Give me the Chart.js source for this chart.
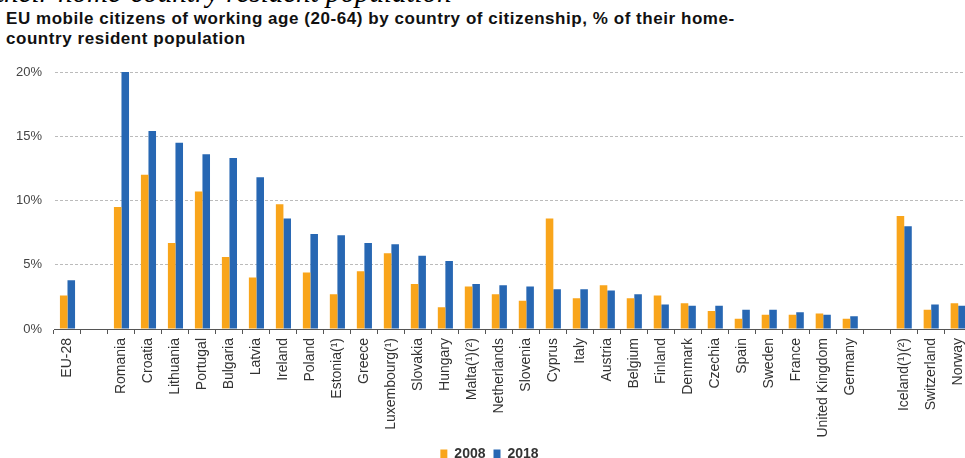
<!DOCTYPE html>
<html>
<head>
<meta charset="utf-8">
<script src="https://cdn.jsdelivr.net/npm/chart.js@4.4.1/dist/chart.umd.min.js"></script>
<style>
    body { margin: 0; background: #fff; }
    #wrap { position: relative; width: 965px; height: 458px; overflow: hidden; }
    #cut { position: absolute; left: -4px; top: -24px; font: italic 29px "Liberation Serif", serif; color: #000; white-space: nowrap; }
    #title { position: absolute; left: 6px; top: 9px; font: bold 17px "Liberation Sans", Arial, sans-serif; letter-spacing: 0.55px; color: #111; line-height: 20px; }
    #box { position: absolute; left: 0; top: 0; width: 979px; height: 471px; }
</style>
</head>
<body>
<div id="wrap">
    <div id="cut">their home-country resident population</div>
    <div id="title">EU mobile citizens of working age (20-64) by country of citizenship, % of their home-<br>country resident population</div>
    <div id="box"><canvas id="graph"></canvas></div>
</div>
<script>
// data (% of home-country resident population)
let countries = ['EU-28', '', 'Romania', 'Croatia', 'Lithuania', 'Portugal', 'Bulgaria', 'Latvia', 'Ireland', 'Poland',
    'Estonia(¹)', 'Greece', 'Luxembourg(¹)', 'Slovakia', 'Hungary', 'Malta(¹)(²)', 'Netherlands', 'Slovenia', 'Cyprus',
    'Italy', 'Austria', 'Belgium', 'Finland', 'Denmark', 'Czechia', 'Spain', 'Sweden', 'France', 'United Kingdom',
    'Germany', ' ', 'Iceland(¹)(²)', 'Switzerland', 'Norway']

let values2008 = [2.6, null, 9.5, 12.0, 6.7, 10.7, 5.6, 4.0, 9.7, 4.4,
    2.7, 4.5, 5.9, 3.5, 1.7, 3.3, 2.7, 2.2, 8.6,
    2.4, 3.4, 2.4, 2.6, 2.0, 1.4, 0.8, 1.1, 1.1, 1.2,
    0.8, null, 8.8, 1.5, 2.0]

let values2018 = [3.8, null, 20.0, 15.4, 14.5, 13.6, 13.3, 11.8, 8.6, 7.4,
    7.3, 6.7, 6.6, 5.7, 5.3, 3.5, 3.4, 3.3, 3.1,
    3.1, 3.0, 2.7, 1.9, 1.8, 1.8, 1.5, 1.5, 1.3, 1.1,
    1.0, null, 8.0, 1.9, 1.8]

let yTicks = [0, 5, 10, 15, 20]

let ctx = document.getElementById('graph').getContext('2d')

let graph = new Chart(ctx, {
    type: 'bar',
    data: {
        labels: countries,
        datasets: [
            {
                label: '2008',
                data: values2008,
                backgroundColor: '#F9A51B',
                categoryPercentage: 0.56,
                barPercentage: 1.0,
            },
            {
                label: '2018',
                data: values2018,
                backgroundColor: '#2767B3',
                categoryPercentage: 0.56,
                barPercentage: 1.0,
            },
        ]
    },
    options: {
        responsive: true,
        maintainAspectRatio: false,
        animation: false,
        layout: { padding: { top: 72, left: 0, right: 0, bottom: 0 } },
        plugins: {
            tooltip: { enabled: false },
            legend: {
                position: 'bottom',
                labels: {
                    boxWidth: 7,
                    boxHeight: 9,
                    padding: 8,
                    color: '#333',
                    font: { family: 'Liberation Sans', size: 14, weight: 'bold' },
                },
            },
        },
        scales: {
            x: {
                grid: { offset: true, drawOnChartArea: false, drawTicks: true, tickLength: 5, color: '#555' },
                border: { display: true, color: '#555' },
                ticks: {
                    autoSkip: false,
                    maxRotation: 90,
                    minRotation: 90,
                    padding: 4,
                    color: '#333',
                    font: { family: 'Liberation Sans', size: 14 },
                },
                afterFit: scale => { scale.height = 110 },
            },
            y: {
                min: 0,
                max: 20,
                afterBuildTicks: scale => { scale.ticks = yTicks.map(v => ({ value: v })) },
                afterFit: scale => { scale.width = 54 },
                grid: { drawTicks: false, color: '#bbb', lineWidth: 1, borderDash: [3, 2] },
                border: { display: true, color: 'rgba(0,0,0,0)', dash: [3, 2] },
                ticks: {
                    padding: 12,
                    color: '#444',
                    font: { family: 'Liberation Sans', size: 13 },
                    callback: v => v + '%',
                },
            },
        },
    }
})
</script>
</body>
</html>
